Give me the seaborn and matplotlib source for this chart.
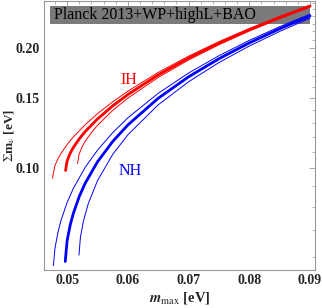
import pandas as pd
import matplotlib.pyplot as plt
import seaborn as sns
from matplotlib.ticker import FixedLocator, FormatStrFormatter, NullFormatter, MultipleLocator

# normal hierarchy: central and the two thin edges
nh_mid_x = [0.0497, 0.0500, 0.0505, 0.051, 0.052, 0.053, 0.055, 0.0575, 0.060, 0.065, 0.070, 0.075, 0.080, 0.085, 0.090]
nh_mid_y = [0.0584, 0.0657, 0.0719, 0.0768, 0.0849, 0.0918, 0.1037, 0.1166, 0.1283, 0.1497, 0.1694, 0.1880, 0.2060, 0.2235, 0.2406]
nh_lo_x = [0.04775, 0.0480, 0.0485, 0.049, 0.050, 0.051, 0.053, 0.055, 0.0575, 0.060, 0.065, 0.070, 0.075, 0.080, 0.085, 0.090]
nh_lo_y = [0.0570, 0.0629, 0.0691, 0.0740, 0.0820, 0.0888, 0.1006, 0.1109, 0.1227, 0.1337, 0.1540, 0.1731, 0.1913, 0.2090, 0.2262, 0.2431]
nh_hi_x = [0.05196, 0.0522, 0.0527, 0.0535, 0.055, 0.0575, 0.060, 0.065, 0.070, 0.075, 0.080, 0.085, 0.090]
nh_hi_y = [0.0606, 0.0672, 0.0738, 0.0816, 0.0930, 0.1082, 0.1212, 0.1441, 0.1646, 0.1839, 0.2023, 0.2201, 0.2375]

# inverted hierarchy
ih_mid_x = [0.04975, 0.0500, 0.0505, 0.051, 0.052, 0.053, 0.055, 0.0575, 0.060, 0.065, 0.070, 0.075, 0.080, 0.085, 0.090]
ih_mid_y = [0.0987, 0.1042, 0.1089, 0.1125, 0.1184, 0.1236, 0.1328, 0.1432, 0.1529, 0.1713, 0.1887, 0.2056, 0.2222, 0.2385, 0.2546]
ih_lo_x = [0.04759, 0.0480, 0.0485, 0.049, 0.050, 0.051, 0.053, 0.055, 0.0575, 0.060, 0.065, 0.070, 0.075, 0.080, 0.085, 0.090]
ih_lo_y = [0.0944, 0.1015, 0.1056, 0.1089, 0.1146, 0.1196, 0.1286, 0.1369, 0.1466, 0.1559, 0.1737, 0.1908, 0.2075, 0.2238, 0.2400, 0.2560]
ih_hi_x = [0.05172, 0.0520, 0.0525, 0.053, 0.054, 0.055, 0.0575, 0.060, 0.065, 0.070, 0.075, 0.080, 0.085, 0.090]
ih_hi_y = [0.1027, 0.1087, 0.1133, 0.1169, 0.1228, 0.1280, 0.1395, 0.1498, 0.1688, 0.1866, 0.2038, 0.2206, 0.2370, 0.2532]

# Planck bound band
band_x = [0.0472, 0.090]
band_lo = 0.2296
band_hi = 0.2546

x_ticks = [0.05, 0.06, 0.07, 0.08, 0.09]
y_ticks = [0.10, 0.15, 0.20]

sns.set_style("white")
plt.rcParams['font.family'] = ['Liberation Serif', 'DejaVu Serif']
plt.rcParams['mathtext.fontset'] = 'stix'

fig = plt.figure(figsize=(3.22, 3.08), dpi=100)
ax = fig.add_axes([0.1366, 0.1234, 0.8414, 0.873])

ax.fill_between(band_x, band_lo, band_hi, color='#7a7a7a', lw=0, zorder=1)
ax.text(0.0478, (band_lo + band_hi) / 2, 'Planck 2013+WP+highL+BAO', fontsize=11.5,
        va='center', ha='left', color='black', zorder=2)

curves = [
    (nh_lo_x, nh_lo_y, 'blue', 0.7),
    (nh_hi_x, nh_hi_y, 'blue', 0.7),
    (nh_mid_x, nh_mid_y, 'blue', 2.0),
    (ih_lo_x, ih_lo_y, 'red', 0.7),
    (ih_hi_x, ih_hi_y, 'red', 0.7),
    (ih_mid_x, ih_mid_y, 'red', 2.0),
]
for xs, ys, c, lw in curves:
    df = pd.DataFrame({'m': xs, 's': ys})
    sns.lineplot(data=df, x='m', y='s', ax=ax, color=c, lw=lw, sort=False,
                 estimator=None, zorder=3)

ax.text(0.0588, 0.1665, 'IH', color='red', fontsize=11.5, ha='left', va='center')
ax.text(0.0584, 0.0985, 'NH', color='blue', fontsize=11.5, ha='left', va='center')

ax.set_yscale('log')
ax.set_xlim(0.0462, 0.0908)
ax.set_ylim(0.0556, 0.2621)
ax.xaxis.set_major_locator(FixedLocator(x_ticks))
ax.xaxis.set_minor_locator(MultipleLocator(0.002))
ax.xaxis.set_major_formatter(FormatStrFormatter('%.2f'))
ax.yaxis.set_major_locator(FixedLocator(y_ticks))
ax.yaxis.set_minor_locator(FixedLocator([0.06, 0.07, 0.08, 0.09, 0.11, 0.12, 0.13, 0.14,
                                         0.16, 0.17, 0.18, 0.19, 0.21, 0.22, 0.23, 0.24, 0.25, 0.26]))
ax.yaxis.set_major_formatter(FormatStrFormatter('%.2f'))
ax.yaxis.set_minor_formatter(NullFormatter())

ax.tick_params(which='both', direction='in', top=True, right=True, color='#999999')
ax.tick_params(which='major', length=4, width=0.6, labelsize=10, pad=3)
ax.tick_params(which='minor', length=2, width=0.5)
for lab in ax.get_xticklabels() + ax.get_yticklabels():
    lab.set_fontweight('bold')
for sp in ax.spines.values():
    sp.set_color('#999999')
    sp.set_linewidth(0.8)

ax.set_xlabel(r'$\boldsymbol{m}_{\max}$ [eV]', fontsize=10.5, fontweight='bold', labelpad=2)
ax.set_ylabel(r'$\Sigma$m$_{\nu}$ [eV]', fontsize=9.5, fontweight='bold')
ax.yaxis.set_label_coords(-0.1, 0.5)

fig.savefig('out.png', dpi=100)
